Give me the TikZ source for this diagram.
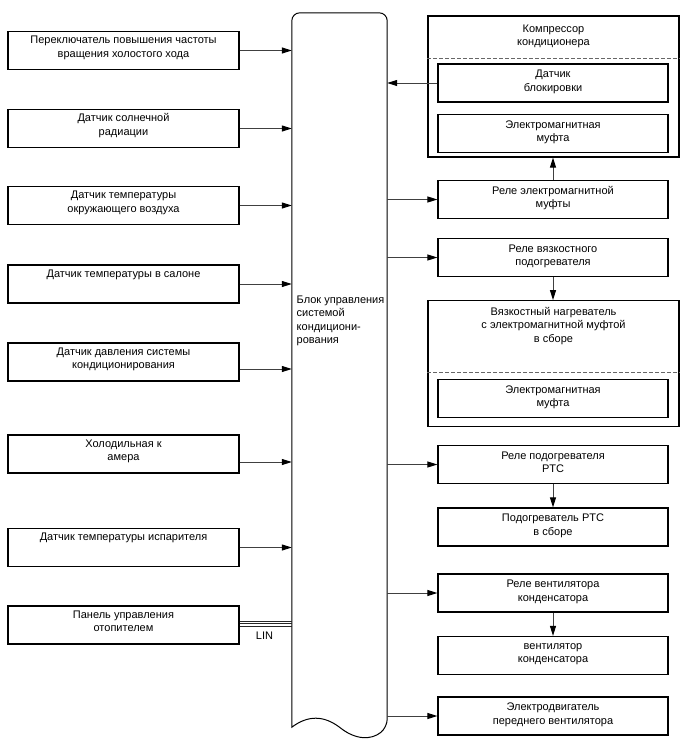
\documentclass[tikz,border=0pt]{standalone}
\usepackage{fontspec}
\setmainfont{Liberation Sans}
\usetikzlibrary{arrows.meta,positioning}

\begin{document}
\begin{tikzpicture}[
    x=1pt, y=-1pt,
    font=\fontsize{11}{13.5}\selectfont,
    inbox/.style={rectangle, draw, line width=1.2pt, align=center, minimum width=231pt, minimum height=38pt, inner sep=2pt, text depth=8pt},
    outbox/.style={rectangle, draw, line width=1.2pt, align=center, minimum width=230pt, minimum height=38pt, inner sep=2pt, text depth=5pt},
    group/.style={rectangle, draw, line width=1.2pt, minimum width=251pt, inner sep=0pt},
    title/.style={anchor=north, align=center, inner sep=0pt},
    divider/.style={draw=black!60, dash pattern=on 4pt off 2pt, line width=1pt},
    arrow/.style={-{Triangle[length=10pt,width=6pt,color=black]}, draw=black!75, line width=1pt},
    bus/.style={draw=black!85, line width=0.9pt}
]
    \useasboundingbox (0,0) rectangle (688,755);

    % Control unit (document shape)
    \node[minimum width=95pt, minimum height=714pt, inner sep=0pt] (ecu) at (339.5,370) {};
    \draw[line width=1pt, rounded corners=8pt] (ecu.south west) -- (ecu.north west) -- (ecu.north east) -- (ecu.south east)
        [sharp corners] .. controls ([xshift=-16pt,yshift=-13pt]ecu.south east) and ([xshift=16pt,yshift=-13pt]ecu.south) .. (ecu.south)
        .. controls ([xshift=-16pt,yshift=12pt]ecu.south) and ([xshift=16pt,yshift=12pt]ecu.south west) .. (ecu.south west) -- cycle;
    \node[anchor=north west, align=left, inner sep=0pt] (ecutext) at (296.5,295.7) {Блок управления\\системой\\кондициони-\\рования};

    % Inputs
    \node[inbox] (idle) at (123.5,50.5) {Переключатель повышения частоты\\вращения холостого хода};
    \node[inbox] (solar) at (123.5,128.5) {Датчик солнечной\\радиации};
    \node[inbox] (ambient) at (123.5,205.5) {Датчик температуры\\окружающего воздуха};
    \node[inbox] (cabin) at (123.5,284) {Датчик температуры в салоне\\\mbox{}};
    \node[inbox] (pressure) at (123.5,362) {Датчик давления системы\\кондиционирования};
    \node[inbox] (fridge) at (123.5,454) {Холодильная к\\амера};
    \node[inbox] (evap) at (123.5,547.5) {Датчик температуры испарителя\\\mbox{}};
    \node[inbox] (panel) at (123.5,625) {Панель управления\\отопителем};

    % Compressor
    \node[group, minimum height=141pt] (comp) at (553.5,86.5) {};
    \node[title] (comptitle) at (553.5,24.3) {Компрессор\\кондиционера};
    \draw[divider] ([yshift=-42.6pt]comp.north west) -- ([yshift=-42.6pt]comp.north east);
    \node[outbox] (lock) at (553,83) {Датчик\\блокировки};
    \node[outbox] (clutch) at (553,133.5) {Электромагнитная\\муфта};
    \node[outbox] (rclutch) at (553,199.5) {Реле электромагнитной\\муфты};

    % Viscous heater
    \node[outbox] (rvisc) at (553,257.5) {Реле вязкостного\\подогревателя};
    \node[group, minimum height=126pt] (visc) at (553.5,363.7) {};
    \node[title] (visctitle) at (553.5,306.7) {Вязкостный нагреватель\\с электромагнитной муфтой\\в сборе};
    \draw[divider] ([yshift=-72pt]visc.north west) -- ([yshift=-72pt]visc.north east);
    \node[outbox] (viscclutch) at (553,398.5) {Электромагнитная\\муфта};

    % PTC, fan, motor
    \node[outbox] (rptc) at (553,464.5) {Реле подогревателя\\PTC};
    \node[outbox] (ptc) at (553,527) {Подогреватель PTC\\в сборе};
    \node[outbox] (rfan) at (553,593) {Реле вентилятора\\конденсатора};
    \node[outbox] (fan) at (553,655.5) {вентилятор\\конденсатора};
    \node[outbox] (motor) at (553,716) {Электродвигатель\\переднего вентилятора};

    % Connections
    \foreach \src/\dy in {idle/0,solar/0,ambient/0,cabin/0,pressure/-7,fridge/-8,evap/0}
        \draw[arrow] ([yshift=\dy pt]\src.east) -- ([yshift=\dy pt]\src.east -| ecu.west);
    \foreach \dy in {4,1.5,-1}
        \draw[bus] ([yshift=\dy pt]panel.east) -- ([yshift=\dy pt]panel.east -| ecu.west);
    \node[inner sep=0pt] (lin) at (264.5,636) {LIN};

    \draw[arrow] (lock.west) -- (lock.west -| ecu.east);
    \foreach \dst in {rclutch,rvisc,rptc,rfan,motor}
        \draw[arrow] (\dst.west -| ecu.east) -- (\dst.west);
    \draw[arrow] (rclutch.north) -- (rclutch.north |- comp.south);
    \draw[arrow] (rvisc.south) -- (rvisc.south |- visc.north);
    \draw[arrow] (rptc.south) -- (ptc.north);
    \draw[arrow] (rfan.south) -- (fan.north);
\end{tikzpicture}
\end{document}
